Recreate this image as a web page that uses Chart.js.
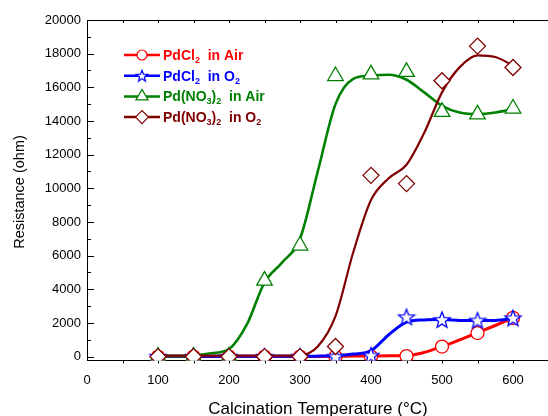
<!DOCTYPE html>
<html>
<head>
<meta charset="utf-8">
<script src="https://cdn.jsdelivr.net/npm/chart.js@4.4.0/dist/chart.umd.min.js"></script>
<style>
  html, body { margin: 0; padding: 0; overflow: hidden; background: #fff; }
  canvas { display: block; }
</style>
</head>
<body>
<canvas id="grafico" width="552" height="416"></canvas>
<script>
// measured points (temperature in C, resistance in ohm)
const tempPontos = [100, 150, 200, 250, 300, 350, 400, 450, 500, 550, 600];
const pdcl2Ar  = [0, 0, 0, 0, 0, 0, 0, 30, 600, 1400, 2300];
const pdcl2O2  = [0, 0, 0, 0, 0, 0, 60, 2340, 2180, 2140, 2280];
const pdno3Ar  = [0, 0, 0, 4520, 6600, 16670, 16770, 16920, 14540, 14390, 14740];
const pdno3O2  = [0, 0, 0, 0, 0, 600, 10770, 10280, 16390, 18450, 17180];

// smoothed curves
const tempCurva = [100, 125, 150, 175, 200, 225, 250, 275, 300, 325, 350, 375, 400, 425, 450, 475, 500, 525, 550, 575, 600];
const curvaPdcl2Ar = [10, 10, 10, 10, 10, 10, 10, 10, 10, 10, 20, 30, 40, 50, 60, 250, 600, 1000, 1420, 1850, 2300];
const curvaPdcl2O2 = [20, 20, 20, 20, 20, 20, 20, 20, 20, 30, 50, 150, 350, 1300, 2050, 2180, 2200, 2150, 2140, 2150, 2260];
const curvaPdno3Ar = [30, 30, 60, 200, 450, 1900, 4400, 5600, 7000, 11000, 15000, 16500, 16700, 16750, 16450, 15700, 14900, 14500, 14400, 14500, 14700];
const curvaPdno3O2 = [60, 60, 60, 60, 60, 60, 60, 60, 80, 600, 2400, 6200, 9300, 10600, 11400, 13300, 15700, 17200, 17900, 17800, 17300];

const ticksX = [0, 100, 200, 300, 400, 500, 600];
const ticksY = [0, 2000, 4000, 6000, 8000, 10000, 12000, 14000, 16000, 18000, 20000];

const VERMELHO = '#ff0000', AZUL = '#0000ff', VERDE = '#008000', VINHO = '#800000';

// five pointed star, Chart.js has none
function caminhoEstrela(ctx, cx, cy, rExt, rInt) {
  ctx.beginPath();
  for (let k = 0; k < 10; k++) {
    const r = k % 2 ? rInt : rExt;
    const a = -Math.PI / 2 + k * Math.PI / 5;
    ctx.lineTo(cx + r * Math.cos(a), cy + r * Math.sin(a));
  }
  ctx.closePath();
}
function criaEstrela(tam, rExt, rInt, larg) {
  const c = document.createElement('canvas');
  c.width = c.height = tam;
  const g = c.getContext('2d');
  caminhoEstrela(g, tam / 2, tam / 2 + 0.5, rExt, rInt);
  g.fillStyle = '#fff';
  g.fill();
  g.strokeStyle = AZUL;
  g.lineWidth = larg;
  g.stroke();
  return c;
}
const estrela = criaEstrela(20, 8.5, 3.6, 1.3);
const estrelaLegenda = criaEstrela(14, 6, 2.5, 1.2);

const pares = (xs, ys) => xs.map((x, i) => ({ x, y: ys[i] }));

function curva(dados, cor, larg, ordem) {
  return {
    data: pares(tempCurva, dados),
    borderColor: cor,
    borderWidth: larg,
    pointRadius: 0,
    cubicInterpolationMode: 'monotone',
    fill: false,
    order: ordem
  };
}
function pontos(dados, cor, estilo, raio, ordem) {
  return {
    data: pares(tempPontos, dados),
    showLine: false,
    borderColor: cor,
    backgroundColor: '#fff',
    pointStyle: estilo,
    pointRadius: raio,
    pointBorderWidth: 1.3,
    order: ordem
  };
}

const legenda = [
  { cor: VERMELHO, estilo: 'circle', raio: 5, partes: [['PdCl'], ['2', 1], ['  in Air']] },
  { cor: AZUL, estilo: estrelaLegenda, raio: 6, partes: [['PdCl'], ['2', 1], ['  in O'], ['2', 1]] },
  { cor: VERDE, estilo: 'triangle', raio: 7, partes: [['Pd(NO'], ['3', 1], [')'], ['2', 1], ['  in Air']] },
  { cor: VINHO, estilo: 'rectRot', raio: 6.5, partes: [['Pd(NO'], ['3', 1], [')'], ['2', 1], ['  in O'], ['2', 1]] }
];

const extras = {
  id: 'extras',
  beforeDatasetsDraw(chart) {
    const { ctx, chartArea: a, scales: { x, y } } = chart;
    ctx.save();
    ctx.strokeStyle = '#000';
    ctx.lineWidth = 1;
    ctx.beginPath();
    ctx.moveTo(a.left, a.top + 0.5);
    ctx.lineTo(a.right, a.top + 0.5);
    for (let v = 0; v <= 20000; v += 1000) {
      const py = Math.round(y.getPixelForValue(v)) + 0.5;
      const len = v % 2000 === 0 ? 7 : 4;
      ctx.moveTo(a.left, py);
      ctx.lineTo(a.left + len, py);
    }
    for (let v = 50; v <= 650; v += 50) {
      const px = Math.round(x.getPixelForValue(v)) + 0.5;
      ctx.moveTo(px, a.bottom);
      ctx.lineTo(px, a.bottom + 3);
      ctx.moveTo(px, a.top);
      ctx.lineTo(px, a.top + 3);
    }
    ctx.stroke();
    ctx.restore();
  },
  afterDraw(chart) {
    const { ctx, chartArea: a } = chart;
    ctx.save();
    // axis titles
    ctx.fillStyle = '#000';
    ctx.font = '17px Arial, "Liberation Sans"';
    ctx.textAlign = 'center';
    ctx.textBaseline = 'alphabetic';
    ctx.fillText('Calcination Temperature (\u00b0C)', 318, 414);
    ctx.translate(24, 192);
    ctx.rotate(-Math.PI / 2);
    ctx.font = '14.5px Arial, "Liberation Sans"';
    ctx.fillText('Resistance (ohm)', 0, 0);
    ctx.restore();

    // legend
    ctx.save();
    legenda.forEach((item, i) => {
      const yy = 55 + i * 20.7;
      ctx.strokeStyle = item.cor;
      ctx.lineWidth = 2.5;
      ctx.beginPath();
      ctx.moveTo(124, yy);
      ctx.lineTo(160, yy);
      ctx.stroke();
      ctx.fillStyle = '#fff';
      ctx.lineWidth = 1.2;
      Chart.helpers.drawPoint(ctx, { pointStyle: item.estilo, radius: item.raio, borderWidth: 1.2, rotation: 0 }, 142, yy);
      let xx = 163;
      ctx.fillStyle = item.cor;
      ctx.textAlign = 'left';
      ctx.textBaseline = 'alphabetic';
      item.partes.forEach(([t, sub]) => {
        ctx.font = sub ? 'bold 9px Arial, "Liberation Sans"' : 'bold 14px Arial, "Liberation Sans"';
        ctx.fillText(t, xx, yy + (sub ? 8 : 5));
        xx += ctx.measureText(t).width;
      });
    });
    ctx.restore();
  }
};

new Chart(document.getElementById('grafico'), {
  type: 'line',
  data: {
    datasets: [
      curva(curvaPdcl2Ar, VERMELHO, 3, 8),
      pontos(pdcl2Ar, VERMELHO, 'circle', 6.5, 7),
      curva(curvaPdcl2O2, AZUL, 3, 6),
      pontos(pdcl2O2, AZUL, estrela, 8, 5),
      curva(curvaPdno3Ar, VERDE, 2.6, 4),
      pontos(pdno3Ar, VERDE, 'triangle', 9, 3),
      curva(curvaPdno3O2, VINHO, 2.2, 2),
      pontos(pdno3O2, VINHO, 'rectRot', 8, 1)
    ]
  },
  options: {
    responsive: false,
    animation: false,
    layout: { autoPadding: false, padding: { top: 20, right: 3.5, left: 0, bottom: 0 } },
    plugins: { legend: { display: false }, tooltip: { enabled: false } },
    scales: {
      x: {
        type: 'linear',
        min: 0,
        max: 650,
        afterBuildTicks: s => { s.ticks = ticksX.map(v => ({ value: v })); },
        afterFit: s => { s.height = 55.5; s.paddingLeft = 0; s.paddingRight = 0; },
        grid: { display: false, drawTicks: false },
        border: { display: true, color: '#000', width: 1 },
        ticks: { color: '#000', padding: 12, font: { family: 'Arial, "Liberation Sans"', size: 13 }, maxRotation: 0, callback: v => String(v) }
      },
      y: {
        min: -230,
        max: 20000,
        afterBuildTicks: s => { s.ticks = ticksY.map(v => ({ value: v })); },
        afterFit: s => { s.width = 87; s.paddingTop = 0; s.paddingBottom = 0; },
        grid: { display: false, drawTicks: false },
        border: { display: true, color: '#000', width: 1 },
        ticks: { color: '#000', padding: 6, font: { family: 'Arial, "Liberation Sans"', size: 13 }, callback: v => String(v) }
      }
    }
  },
  plugins: [extras]
});
</script>
</body>
</html>
